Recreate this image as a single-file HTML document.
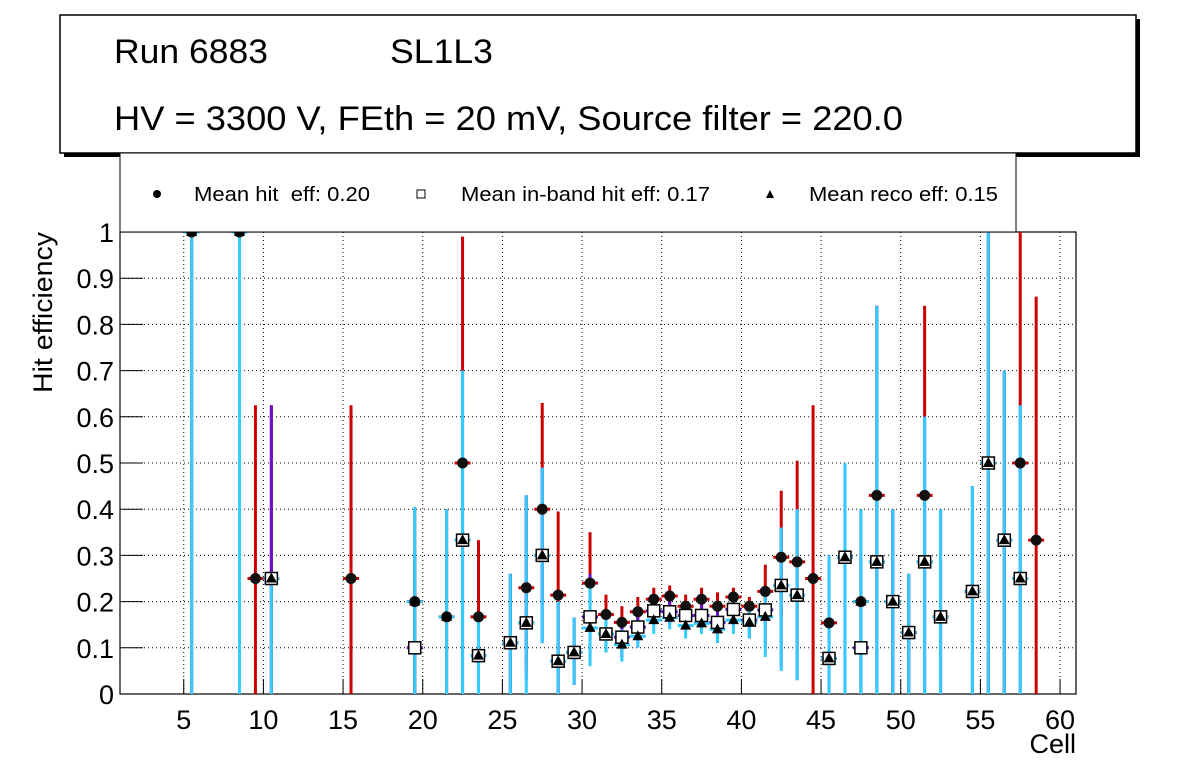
<!DOCTYPE html>
<html><head><meta charset="utf-8">
<style>
body{margin:0;background:#fff;}
svg{display:block;font-family:"Liberation Sans",Arial,sans-serif;}
</style></head>
<body>
<svg id="chart" width="1196" height="772" viewBox="0 0 1196 772" xmlns="http://www.w3.org/2000/svg">
<rect x="0" y="0" width="1196" height="772" fill="#fff"/>
<g id="grid"></g>
<g id="axes"></g>
<g id="marks"></g>
<!-- title box -->
<rect x="64" y="19" width="1076" height="138" fill="#000"/>
<rect x="60" y="15" width="1076" height="138" fill="#fff" stroke="#000" stroke-width="1.5"/>
<text x="114" y="63" font-size="30" textLength="154" lengthAdjust="spacingAndGlyphs" style="font-size:34px">Run 6883</text>
<text x="390" y="63" font-size="34" textLength="103" lengthAdjust="spacingAndGlyphs">SL1L3</text>
<text x="114" y="130" font-size="34" textLength="789" lengthAdjust="spacingAndGlyphs">HV = 3300 V, FEth = 20 mV, Source filter = 220.0</text>
<!-- legend -->
<rect x="120" y="153" width="896" height="79" fill="#fff" stroke="#000" stroke-width="1"/>
<g>
<circle cx="157" cy="194" r="4" fill="#000"/>
<text x="194" y="201" font-size="20" textLength="176" lengthAdjust="spacingAndGlyphs" xml:space="preserve">Mean hit  eff: 0.20</text></g>
<g>
<rect x="417" y="190" width="8" height="8" fill="#fff" stroke="#000" stroke-width="1"/>
<text x="461" y="201" font-size="20" textLength="249" lengthAdjust="spacingAndGlyphs">Mean in-band hit eff: 0.17</text></g>
<g>
<polygon points="770,190 774,198 766,198" fill="#000"/>
<text x="809" y="201" font-size="20" textLength="189" lengthAdjust="spacingAndGlyphs">Mean reco eff: 0.15</text></g>
<text x="1076" y="753" font-size="27" text-anchor="end">Cell</text>
<text transform="translate(52,232) rotate(-90)" font-size="27" text-anchor="end" textLength="161" lengthAdjust="spacingAndGlyphs">Hit efficiency</text>
</svg>
<script>
const cells=[5.5,8.5,9.5,10.5,15.5,19.5,21.5,22.5,23.5,25.5,26.5,27.5,28.5,29.5,30.5,31.5,32.5,33.5,34.5,35.5,36.5,37.5,38.5,39.5,40.5,41.5,42.5,43.5,44.5,45.5,46.5,47.5,48.5,49.5,50.5,51.5,52.5,54.5,55.5,56.5,57.5,58.5];
const hitVal=[1,1,0.25,0.25,0.25,0.2,0.167,0.5,0.167,0.111,0.23,0.4,0.214,0.09,0.24,0.172,0.155,0.178,0.205,0.212,0.19,0.205,0.19,0.21,0.19,0.222,0.296,0.286,0.25,0.154,0.296,0.2,0.43,0.2,0.133,0.43,0.167,0.222,0.5,0.333,0.5,0.333];
const hitLo=[0,0,0,0,0,0,0,0.7,0.08,0,0.05,0.2,0,0.02,0.12,0.12,0.08,0.13,0.17,0.18,0.15,0.17,0.15,0.17,0.15,0.16,0.17,0.1,0,0,0,0,0.12,0,0,0.6,0,0,0,0,0.62,0];
const hitHi=[1,1,0.625,0.625,0.625,0.4,0.4,0.99,0.333,0.26,0.43,0.63,0.395,0.165,0.35,0.215,0.19,0.21,0.23,0.235,0.215,0.23,0.22,0.23,0.21,0.28,0.44,0.505,0.625,0.3,0.5,0.4,0.84,0.4,0.26,0.84,0.4,0.45,1,0.7,1,0.86];
const bandVal=[null,null,null,0.25,null,0.1,null,0.333,0.083,0.111,0.154,0.3,0.071,0.09,0.167,0.13,0.123,0.145,0.18,0.178,0.17,0.17,0.155,0.183,0.16,0.182,0.235,0.214,null,0.077,0.296,0.1,0.286,0.2,0.133,0.286,0.167,0.222,0.5,0.333,0.25,null];
const bandLo=[null,null,null,0,null,0,null,0,0,0,0.03,0.11,0,0.02,0.07,0.09,0.08,0.11,0.15,0.15,0.14,0.14,0.12,0.15,0.12,0.1,0.06,0.03,null,0,0,0,0,0,0,0,0,0,0,0,0,null];
const bandHi=[null,null,null,0.625,null,0.3,null,0.7,0.17,0.26,0.43,0.49,0.2,0.165,0.26,0.18,0.16,0.18,0.21,0.21,0.2,0.2,0.19,0.21,0.2,0.22,0.36,0.4,null,0.3,0.5,0.3,0.84,0.4,0.26,0.6,0.4,0.45,1,0.7,0.625,null];
const recoVal=[1,1,null,0.25,null,0.2,0.167,0.333,0.083,0.111,0.154,0.3,0.071,0.09,0.143,0.13,0.107,0.125,0.16,0.165,0.148,0.153,0.14,0.16,0.155,0.167,0.235,0.214,null,0.077,0.296,0.2,0.286,0.2,0.133,0.286,0.167,0.222,0.5,0.333,0.25,null];
const recoLo=[0,0,null,0,null,0,0,0,0,0,0,0.11,0,0.02,0.06,0.09,0.07,0.1,0.13,0.14,0.12,0.13,0.11,0.13,0.12,0.08,0.05,0.03,null,0,0,0,0,0,0,0,0,0,0,0,0,null];
const recoHi=[1,1,null,0.25,null,0.405,0.4,0.7,0.17,0.26,0.43,0.49,0.2,0.165,0.25,0.18,0.14,0.16,0.19,0.19,0.18,0.18,0.17,0.19,0.2,0.22,0.36,0.4,null,0.3,0.5,0.4,0.84,0.4,0.26,0.6,0.4,0.45,1,0.7,0.625,null];
const xTicks=[5,10,15,20,25,30,35,40,45,50,55,60];
const yTicks=[0,0.1,0.2,0.3,0.4,0.5,0.6,0.7,0.8,0.9,1];

const NS='http://www.w3.org/2000/svg';
const X0=120,X1=1076,Y0=694,Y1=232,XMIN=1,XMAX=61;
const sx=v=>X0+(v-XMIN)/(XMAX-XMIN)*(X1-X0);
const sy=v=>Y0-v*(Y0-Y1);
function mk(tag,attrs,parent){const e=document.createElementNS(NS,tag);for(const k in attrs)e.setAttribute(k,attrs[k]);parent.appendChild(e);return e;}
const grid=document.getElementById('grid'),axes=document.getElementById('axes'),marks=document.getElementById('marks');
xTicks.forEach(t=>{
  const g=mk('line',{x1:sx(t),x2:sx(t),y1:Y1,y2:Y0,stroke:'#000','stroke-width':1,'stroke-dasharray':'1,3'},grid);
  
  
  const tk=mk('line',{x1:sx(t),x2:sx(t),y1:Y0,y2:Y0-15,stroke:'#000','stroke-width':1},axes);
  
  
  const lb=mk('text',{x:sx(t),y:Y0+35,'font-size':27,'text-anchor':'middle'},axes);
  lb.textContent=t;
  
  
});
yTicks.forEach(t=>{
  const g=mk('line',{x1:X0,x2:X1,y1:sy(t),y2:sy(t),stroke:'#000','stroke-width':1,'stroke-dasharray':'1,3'},grid);
  
  
  const tk=mk('line',{x1:X0,x2:X0+23,y1:sy(t),y2:sy(t),stroke:'#000','stroke-width':1},axes);
  
  
  const lb=mk('text',{x:X0-6,y:sy(t)+10,'font-size':27,'text-anchor':'end'},axes);
  lb.textContent=String(t);
  
  
});
const frame=mk('rect',{x:X0,y:Y1,width:X1-X0,height:Y0-Y1,fill:'none',stroke:'#000','stroke-width':1.2},axes);



function series(vals,lo,hi,color,name){
  const g=mk('g',{},marks);
  
  
  cells.forEach((c,i)=>{
    if(vals[i]===null)return;
    const x=sx(c);
    const e=mk('line',{x1:x,x2:x,y1:sy(lo[i]),y2:sy(hi[i]),stroke:color,'stroke-width':3},g);
    
    
    const h=mk('line',{x1:sx(c-0.5),x2:sx(c+0.5),y1:sy(vals[i]),y2:sy(vals[i]),stroke:color,'stroke-width':3},g);
    
    
  });
}
series(hitVal,hitLo,hitHi,'#cc0000','hit');
series(bandVal,bandLo,bandHi,'#6a0dcc','inband');
series(recoVal,recoLo,recoHi,'#33ccff','reco');
cells.forEach((c,i)=>{
  const x=sx(c);
  if(hitVal[i]!==null){
    const m=mk('circle',{cx:x,cy:sy(hitVal[i]),r:5.5,fill:'#111'},marks);
    
    
  }
  if(bandVal[i]!==null){
    const m=mk('rect',{x:x-6,y:sy(bandVal[i])-6,width:12,height:12,fill:'#fff',stroke:'#000','stroke-width':1.5},marks);
    
    
  }
  if(recoVal[i]!==null){
    const y=sy(recoVal[i]);
    const m=mk('polygon',{points:`${x},${y-6} ${x+5.5},${y+4} ${x-5.5},${y+4}`,fill:'#000'},marks);
    
    
  }
});
</script>
</body></html>
